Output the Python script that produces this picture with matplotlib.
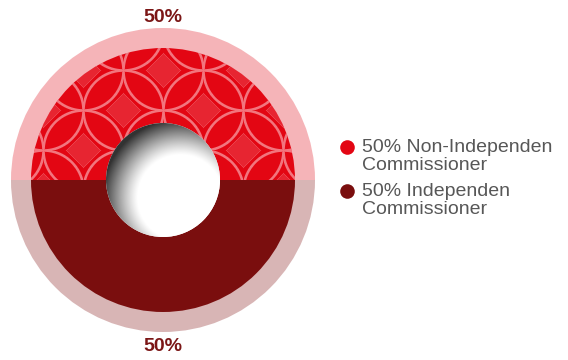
import matplotlib.pyplot as plt
import numpy as np

# data
shares = [50, 50]
pct_labels = ["50%", "50%"]
legend_labels = ["50% Non-Independen\nCommissioner", "50% Independen\nCommissioner"]

# colours
inner_colors = ["#E30613", "#7A0E0E"]
outer_colors = ["#F5B4B8", "#D8B5B5"]
label_color = "#7B1616"
text_color = "#575757"

R_OUT = 152
R_IN = 132
R_HOLE = 57

plt.rcParams['font.family'] = ['Liberation Sans', 'DejaVu Sans']

fig = plt.figure(figsize=(5.68, 3.6), dpi=100)
ax = fig.add_axes([0, 0, 1, 1])

# outer light ring, then the solid halves
ax.pie(shares, radius=R_OUT, colors=outer_colors, startangle=0,
       labels=pct_labels, labeldistance=1.085,
       textprops=dict(ha='center', va='center_baseline', color=label_color,
                      fontsize=14, fontweight='bold'),
       wedgeprops=dict(linewidth=0))
wedges, _ = ax.pie(shares, radius=R_IN, colors=inner_colors, startangle=0,
                   wedgeprops=dict(linewidth=0))

# overlapping-circle texture on the red half
yy, xx = np.mgrid[R_IN:-R_IN:-1.0, -R_IN:R_IN:1.0]
r = 40.0
oy = 30.0
u, v = xx / r, (yy - oy) / r
d_line = np.full(xx.shape, 99.0)
d_diam = np.full(xx.shape, 99.0)
in_diam = np.zeros(xx.shape, bool)
for di in range(-2, 3):
    for dj in range(-2, 3):
        ci = np.round(u) + di
        cj = np.round(v) + dj
        ok = ((ci + cj) % 2) == 0
        dx = (u - ci) * r
        dy = (v - cj) * r
        dist = np.hypot(dx, dy)
        d_line = np.where(ok, np.minimum(d_line, np.abs(dist - r)), d_line)
        l1 = np.abs(dx) + np.abs(dy)
        d_diam = np.where(ok, np.minimum(d_diam, np.abs(l1 - 0.42 * r)), d_diam)
        in_diam |= ok & (l1 < 0.42 * r)
a = np.clip(1.8 - d_line / 1.0, 0, 1) * 0.55
a = np.maximum(a, in_diam * 0.16)
a = np.maximum(a, np.clip(1.3 - d_diam / 1.0, 0, 1) * 0.3)
tex = np.zeros(xx.shape + (4,))
tex[..., :3] = [1.0, 0.82, 0.85]
tex[..., 3] = a
im = ax.imshow(tex, extent=(-R_IN, R_IN, -R_IN, R_IN), interpolation='nearest', zorder=3)
im.set_clip_path(wedges[0])

# shaded hole in the middle
hole = plt.Circle((0, 0), R_HOLE, facecolor='white', edgecolor='none', zorder=4)
ax.add_patch(hole)
hy, hx = np.mgrid[R_HOLE:-R_HOLE:-1.0, -R_HOLE:R_HOLE:1.0]
d = np.hypot(hx - 0.3 * R_HOLE, hy + 0.3 * R_HOLE) / R_HOLE
g = 1 - np.clip((d - 0.75) / 0.62, 0, 1) ** 1.2 * 0.8
shade = np.dstack([g, g, g])
him = ax.imshow(shade, extent=(-R_HOLE, R_HOLE, -R_HOLE, R_HOLE), zorder=5)
him.set_clip_path(hole)

# legend drawn by hand so the dot sits on the first line
lx, ly0, step = 184, 33, 44
for i, (lab, col) in enumerate(zip(legend_labels, inner_colors)):
    y = ly0 - i * step
    ax.plot([lx], [y], marker='o', ms=10.5, color=col, mec='none', linestyle='none')
    ax.text(lx + 15, y + 7.5, lab, ha='left', va='top', fontsize=14,
            color=text_color, linespacing=1.02)

ax.set_xlim(-163, 405)
ax.set_ylim(-180, 180)
ax.set_aspect('equal')
ax.axis('off')

fig.savefig('out.png', dpi=100)
